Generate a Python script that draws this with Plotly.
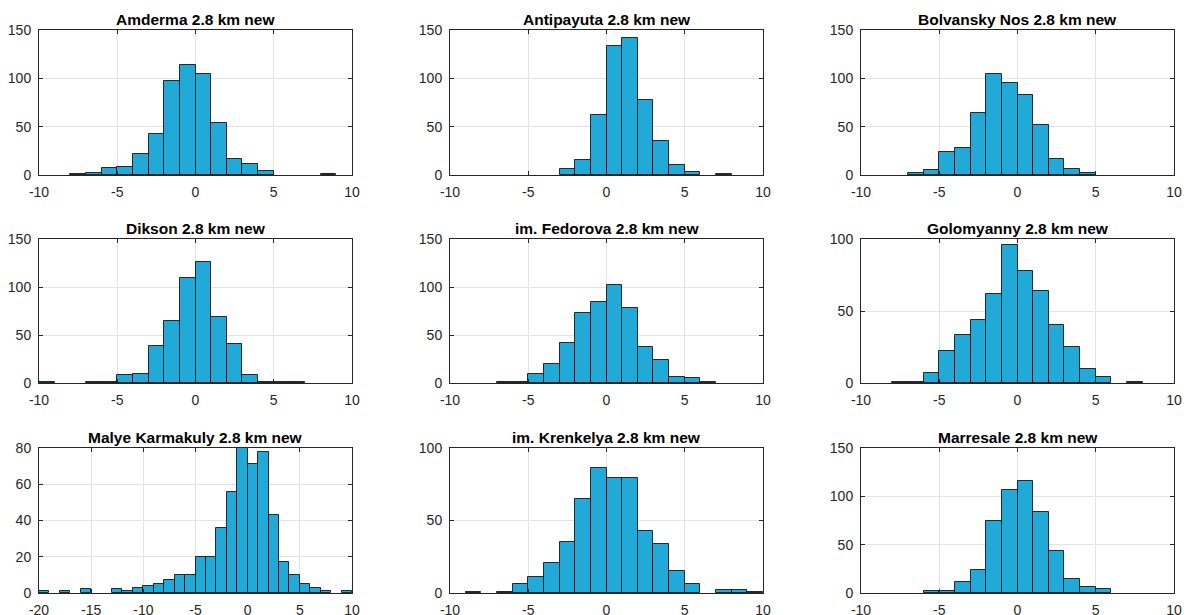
import plotly.graph_objects as go

# ---- data (counts per 1-unit bin) ----
titles = ["Amderma 2.8 km new", "Antipayuta 2.8 km new", "Bolvansky Nos 2.8 km new",
          "Dikson 2.8 km new", "im. Fedorova 2.8 km new", "Golomyanny 2.8 km new",
          "Malye Karmakuly 2.8 km new", "im. Krenkelya 2.8 km new", "Marresale 2.8 km new"]

amderma_start = -8
amderma_counts = [1, 2, 7, 8, 22, 42, 97, 114, 104, 54, 17, 11, 4, 0, 0, 0, 1]

antipayuta_start = -3
antipayuta_counts = [6, 16, 62, 133, 142, 78, 35, 10, 3, 0, 1]

bolvansky_start = -7
bolvansky_counts = [2, 5, 24, 28, 64, 104, 95, 83, 52, 17, 6, 2]

dikson_start = -10
dikson_counts = [1, 0, 0, 1, 1, 8, 9, 39, 65, 109, 126, 69, 41, 8, 1, 1, 1]

fedorova_start = -7
fedorova_counts = [1, 1, 9, 20, 42, 73, 84, 102, 78, 38, 24, 6, 5, 1]

golomyanny_start = -8
golomyanny_counts = [1, 1, 7, 22, 33, 44, 62, 96, 78, 64, 40, 25, 10, 4, 0, 1]

karmakuly_start = -20
karmakuly_counts = [1, 0, 1, 0, 2, 0, 0, 2, 1, 3, 4, 5, 7, 10, 10, 20, 20, 36, 56, 80,
                    71, 78, 43, 17, 10, 5, 3, 1, 0, 1]

krenkelya_start = -9
krenkelya_counts = [1, 0, 1, 6, 11, 21, 35, 65, 86, 79, 79, 43, 34, 15, 6, 0, 2, 2, 1]

marresale_start = -6
marresale_counts = [2, 2, 11, 24, 75, 107, 116, 84, 43, 15, 6, 4]

starts = [amderma_start, antipayuta_start, bolvansky_start, dikson_start, fedorova_start,
          golomyanny_start, karmakuly_start, krenkelya_start, marresale_start]
counts = [amderma_counts, antipayuta_counts, bolvansky_counts, dikson_counts, fedorova_counts,
          golomyanny_counts, karmakuly_counts, krenkelya_counts, marresale_counts]

x_ticks_std = [-10, -5, 0, 5, 10]
x_ticks_wide = [-20, -15, -10, -5, 0, 5, 10]
y_ticks_150 = [0, 50, 100, 150]
y_ticks_100 = [0, 50, 100]
y_ticks_80 = [0, 20, 40, 60, 80]

x_ticks = [x_ticks_std] * 6 + [x_ticks_wide, x_ticks_std, x_ticks_std]
y_ticks = [y_ticks_150] * 5 + [y_ticks_100, y_ticks_80, y_ticks_100, y_ticks_150]

# ---- layout geometry (pixels in the 1186x615 window) ----
W, H = 1186, 615
col_px = [(39, 352), (450, 763), (861, 1174)]
row_px = [(30, 175), (239, 383), (448, 593)]

fig = go.Figure()
annotations = []
axis_color = "#262626"
font_family = "Liberation Sans, Arial, sans-serif"

for i in range(9):
    r, c = divmod(i, 3)
    n = i + 1
    xa = "x" if n == 1 else f"x{n}"
    ya = "y" if n == 1 else f"y{n}"
    centers = [starts[i] + k + 0.5 for k in range(len(counts[i]))]
    vals = [v if v > 0 else None for v in counts[i]]
    fig.add_trace(go.Bar(
        x=centers, y=vals, width=1.0, xaxis=xa, yaxis=ya,
        marker=dict(color="rgb(33,170,215)", line=dict(color="rgba(0,0,0,0.8)", width=1)),
        showlegend=False, hoverinfo="x+y",
    ))
    x0, x1 = col_px[c]
    y0, y1 = row_px[r]
    dom_x = [x0 / W, x1 / W]
    dom_y = [1 - y1 / H, 1 - y0 / H]
    common = dict(showline=True, linecolor=axis_color, linewidth=1, mirror="ticks",
                  ticks="inside", ticklen=4, tickcolor=axis_color, automargin=False,
                  showgrid=True, gridcolor="#e3e3e3", gridwidth=1, zeroline=False,
                  tickfont=dict(family=font_family, size=14, color=axis_color))
    xt, yt = x_ticks[i], y_ticks[i]
    fig.layout[("xaxis" if n == 1 else f"xaxis{n}")] = dict(
        domain=dom_x, range=[xt[0], xt[-1]], tickmode="array",
        tickvals=xt, ticktext=[str(v) for v in xt], ticklabelstandoff=4,
        anchor=ya, **common)
    fig.layout[("yaxis" if n == 1 else f"yaxis{n}")] = dict(
        domain=dom_y, range=[yt[0], yt[-1]], tickmode="array",
        tickvals=yt, ticktext=[str(v) for v in yt], ticklabelstandoff=4,
        anchor=xa, **common)
    annotations.append(dict(
        text="<b>" + titles[i] + "</b>", x=(dom_x[0] + dom_x[1]) / 2, y=dom_y[1],
        xref="paper", yref="paper", xanchor="center", yanchor="bottom", yshift=0,
        showarrow=False, font=dict(family=font_family, size=15.5, color="black")))

fig.update_layout(
    width=W, height=H, margin=dict(l=0, r=0, t=0, b=0, autoexpand=False),
    plot_bgcolor="white", paper_bgcolor="white",
    bargap=0, annotations=annotations,
)

fig.write_html(
    "out.html",
    config={"displayModeBar": False},
    post_script="document.body.style.margin='0';document.body.style.overflow='hidden';",
)
